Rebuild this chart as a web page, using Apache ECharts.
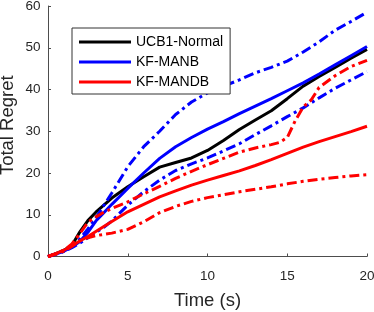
<!DOCTYPE html>
<html>
<head>
<meta charset="utf-8">
<script src="https://cdn.jsdelivr.net/npm/echarts@6/dist/echarts.min.js"></script>
<style>html,body{margin:0;padding:0;background:#fff;}#c{width:374px;height:312px;}</style>
</head>
<body>
<div id="c"></div>
<script>
var time = [0, 0.5, 1, 1.5, 2, 2.5, 3, 3.5, 4, 5, 6, 7, 8, 9, 10, 11, 12, 13, 14, 15, 16, 17, 18, 19, 20];
var ucb1 = [0, 0.7, 1.5, 2.7, 5.9, 8.6, 10.6, 12.3, 14, 16.7, 19.1, 21.4, 22.5, 23.6, 25.4, 27.8, 30.4, 32.7, 34.9, 37.8, 40.8, 43.1, 45.3, 47.5, 49.6];
var manb = [0, 0.6, 1.3, 2.3, 3.6, 5.8, 8.5, 10.5, 12.5, 16.3, 20, 23.5, 26.3, 28.5, 30.5, 32.3, 34.2, 36, 37.8, 39.7, 41.6, 43.7, 45.9, 48.1, 50.3];
var manbUp = [0, 0.6, 1.3, 2.5, 4.2, 6.6, 9.2, 12.2, 15.2, 21.5, 26.3, 30, 34, 37, 39.2, 40.8, 42.3, 44, 45.3, 46.8, 49, 51.4, 54.2, 56.3, 58.5];
var manbLo = [0, 0.6, 1.2, 2.1, 3.2, 4.5, 5.8, 7, 8.5, 12.3, 15.5, 18.3, 20.6, 22.2, 23.6, 25.3, 27, 29.2, 31.3, 33.5, 35.6, 38, 40.3, 42.3, 44.3];
var mandb = [0, 0.7, 1.5, 2.6, 3.7, 4.8, 6, 7.2, 8.4, 10.7, 12.5, 14.3, 15.7, 17.1, 18.3, 19.4, 20.5, 21.8, 23.2, 24.7, 26.2, 27.5, 28.7, 29.9, 31.2];
var timeUp2 = [0, 0.5, 1, 1.5, 2, 2.5, 3, 3.5, 4, 5, 6, 7, 8, 9, 10, 11, 12, 13, 14, 14.5, 15, 15.5, 16, 16.5, 17, 18, 19, 20];
var mandbUp = [0, 0.7, 1.5, 3, 5.5, 8.2, 9.5, 10.6, 11.5, 13.1, 15, 16.8, 18.7, 20.4, 22, 23.5, 25, 26, 26.8, 27.3, 28.5, 32.5, 35.8, 37.5, 40.5, 43.3, 45.5, 47];
var mandbLo = [0, 0.6, 1.3, 2.4, 3.8, 4.5, 5, 5.3, 5.6, 6.5, 8.3, 10.5, 12, 13.2, 14.1, 14.8, 15.5, 16.1, 16.7, 17.4, 18, 18.5, 18.9, 19.3, 19.6];
var xTicks = [0, 5, 10, 15, 20];
var yTicks = [0, 10, 20, 30, 40, 50, 60];
var names = ['UCB1-Normal', 'KF-MANB', 'KF-MANDB'];

function pairs(t, v) { return t.map(function (x, i) { return [x, v[i]]; }); }
var dashDot = [10, 4, 3, 4];
function mk(name, t, v, color, dashed) {
  return {
    name: name, type: 'line', data: pairs(t, v), showSymbol: false, symbol: 'none',
    smooth: false, animation: false,
    lineStyle: { color: color, width: 3, type: dashed ? dashDot : 'solid', cap: 'butt' },
    itemStyle: { color: color }
  };
}
var chart = echarts.init(document.getElementById('c'), null, { renderer: 'canvas' });
var axisColor = '#4d4d4d';
var font = 'Liberation Sans, Arial, Helvetica, sans-serif';
chart.setOption({
  animation: false,
  backgroundColor: '#fff',
  grid: { left: 48, right: 7, top: 6, bottom: 55.5, containLabel: false, outerBoundsMode: 'none' },
  xAxis: {
    type: 'value', min: xTicks[0], max: xTicks[xTicks.length - 1], interval: 5,
    name: 'Time (s)', nameLocation: 'middle', nameGap: 35, nameMoveOverlap: false,
    nameTextStyle: { color: '#262626', fontSize: 18.5, fontFamily: font },
    axisLine: { show: true, onZero: false, lineStyle: { color: axisColor, width: 1 } },
    axisTick: { show: true, inside: true, length: 3, lineStyle: { color: axisColor } },
    axisLabel: { color: '#262626', fontSize: 13.5, fontFamily: font, margin: 13 },
    splitLine: { show: false }
  },
  yAxis: {
    type: 'value', min: yTicks[0], max: yTicks[yTicks.length - 1], interval: 10,
    name: 'Total Regret', nameLocation: 'middle', nameGap: 31, nameRotate: 90, nameMoveOverlap: false,
    nameTextStyle: { color: '#262626', fontSize: 18.5, fontFamily: font, padding: [0, 0, 0, 12] },
    axisLine: { show: true, onZero: false, lineStyle: { color: axisColor, width: 1 } },
    axisTick: { show: true, inside: true, length: 3, lineStyle: { color: axisColor } },
    axisLabel: { color: '#262626', fontSize: 13.5, fontFamily: font, margin: 7.5 },
    splitLine: { show: false }
  },
  legend: {
    data: names, orient: 'vertical', left: 72, top: 28,
    padding: [7, 7, 5, 7], itemGap: 6, itemWidth: 52, itemHeight: 3,
    icon: 'rect', borderColor: '#333', borderWidth: 1, backgroundColor: '#fff',
    textStyle: { color: '#000', fontSize: 14, fontFamily: font, padding: [0, 0, 0, 0] },
    selectedMode: false
  },
  series: [
    mk(names[0], time, ucb1, '#000000', false),
    mk(names[1], time, manb, '#0000ff', false),
    mk('manbUp', time, manbUp, '#0000ff', true),
    mk('manbLo', time, manbLo, '#0000ff', true),
    mk(names[2], time, mandb, '#ff0000', false),
    mk('mandbUp', timeUp2, mandbUp, '#ff0000', true),
    mk('mandbLo', time, mandbLo, '#ff0000', true)
  ]
});
</script>
</body>
</html>
